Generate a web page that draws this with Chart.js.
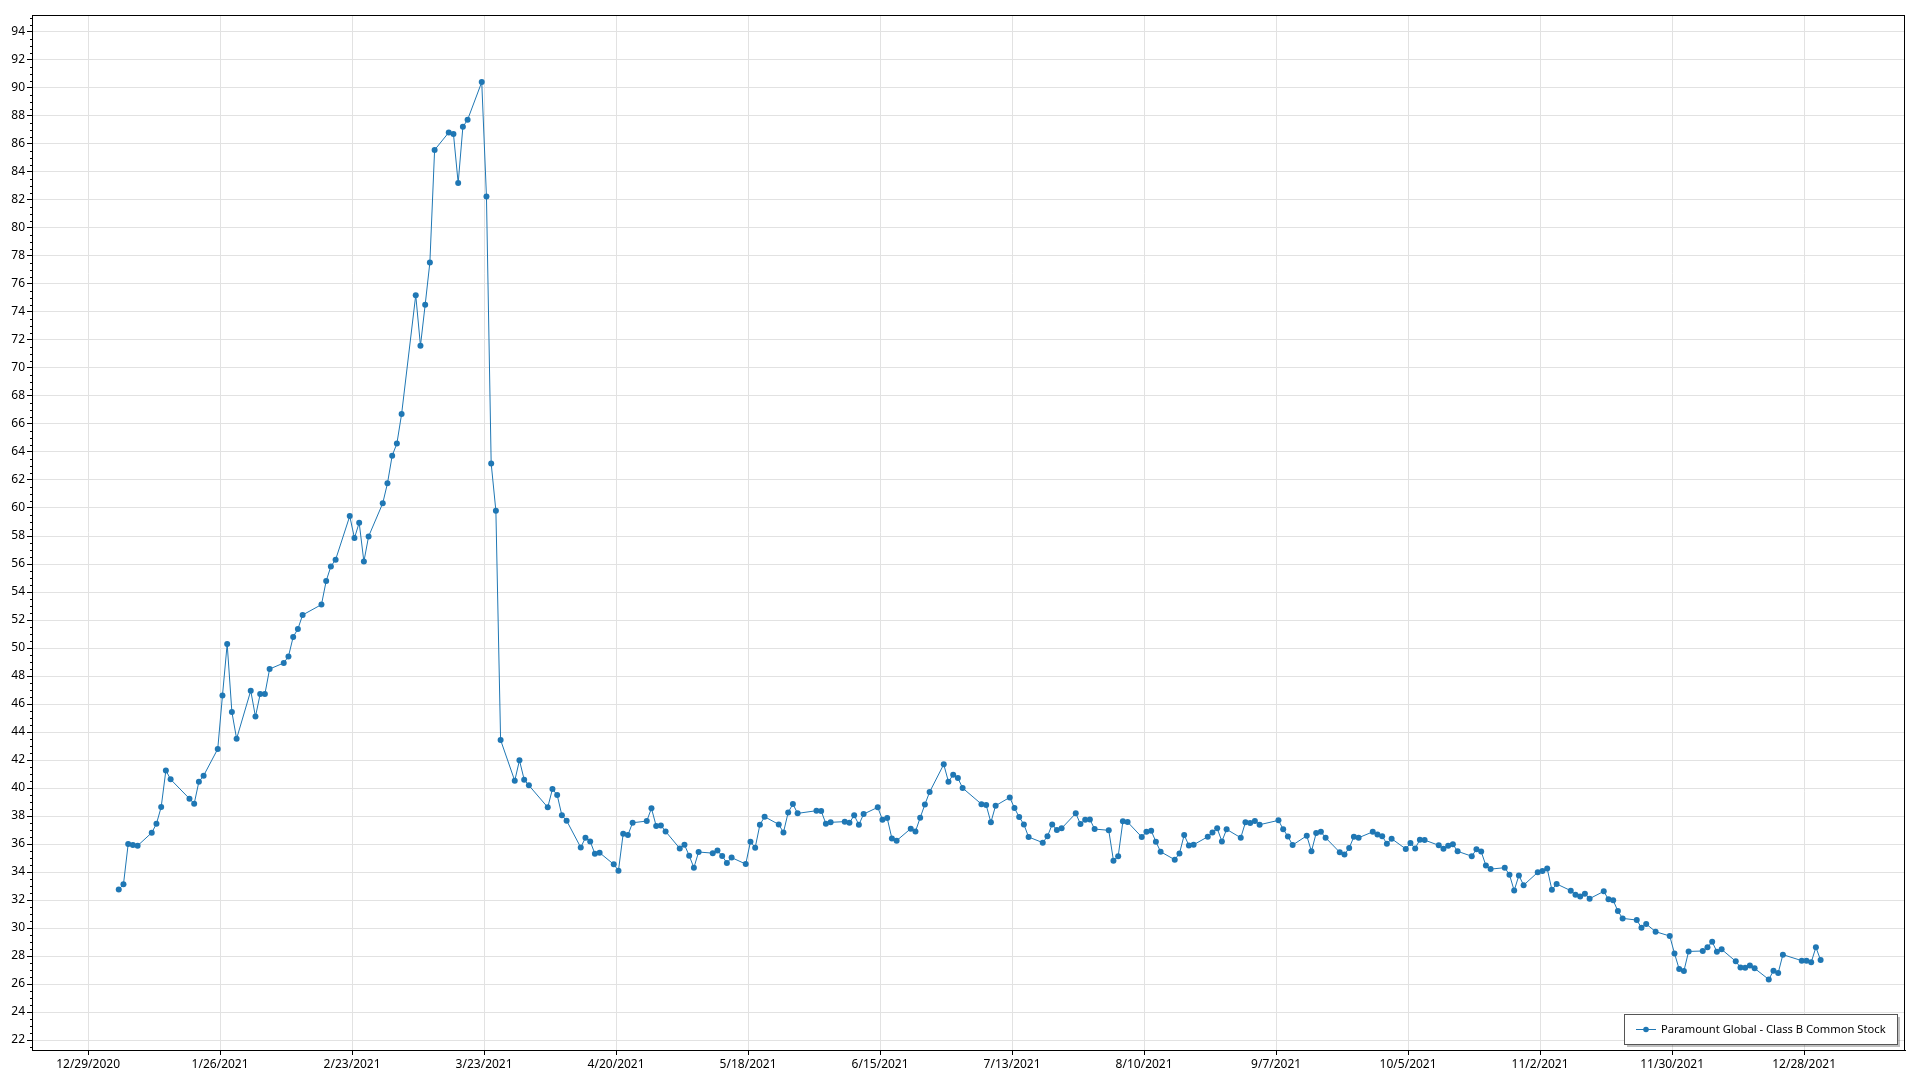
<!DOCTYPE html>
<html>
<head>
<meta charset="utf-8">
<script src="https://cdn.jsdelivr.net/npm/chart.js@4.4.1/dist/chart.umd.min.js"></script>
<style>
  html, body { margin: 0; padding: 0; background: #fff; }
  #wrap { width: 1920px; height: 1080px; position: relative; }
</style>
</head>
<body>
<div id="wrap"><canvas id="myChart" width="1920" height="1080"></canvas></div>
<script>
// daily closes
var dates = [
  '2021-01-04','2021-01-05','2021-01-06','2021-01-07','2021-01-08','2021-01-11','2021-01-12','2021-01-13','2021-01-14','2021-01-15',
  '2021-01-19','2021-01-20','2021-01-21','2021-01-22','2021-01-25','2021-01-26','2021-01-27','2021-01-28','2021-01-29',
  '2021-02-01','2021-02-02','2021-02-03','2021-02-04','2021-02-05','2021-02-08','2021-02-09','2021-02-10','2021-02-11','2021-02-12',
  '2021-02-16','2021-02-17','2021-02-18','2021-02-19','2021-02-22','2021-02-23','2021-02-24','2021-02-25','2021-02-26',
  '2021-03-01','2021-03-02','2021-03-03','2021-03-04','2021-03-05','2021-03-08','2021-03-09','2021-03-10','2021-03-11','2021-03-12',
  '2021-03-15','2021-03-16','2021-03-17','2021-03-18','2021-03-19','2021-03-22','2021-03-23','2021-03-24','2021-03-25','2021-03-26',
  '2021-03-29','2021-03-30','2021-03-31',
  '2021-04-01','2021-04-05','2021-04-06','2021-04-07','2021-04-08','2021-04-09','2021-04-12','2021-04-13','2021-04-14','2021-04-15',
  '2021-04-16','2021-04-19','2021-04-20','2021-04-21','2021-04-22','2021-04-23','2021-04-26','2021-04-27','2021-04-28','2021-04-29','2021-04-30',
  '2021-05-03','2021-05-04','2021-05-05','2021-05-06','2021-05-07','2021-05-10','2021-05-11','2021-05-12','2021-05-13','2021-05-14',
  '2021-05-17','2021-05-18','2021-05-19','2021-05-20','2021-05-21','2021-05-24','2021-05-25','2021-05-26','2021-05-27','2021-05-28',
  '2021-06-01','2021-06-02','2021-06-03','2021-06-04','2021-06-07','2021-06-08','2021-06-09','2021-06-10','2021-06-11',
  '2021-06-14','2021-06-15','2021-06-16','2021-06-17','2021-06-18','2021-06-21','2021-06-22','2021-06-23','2021-06-24','2021-06-25',
  '2021-06-28','2021-06-29','2021-06-30',
  '2021-07-01','2021-07-02','2021-07-06','2021-07-07','2021-07-08','2021-07-09','2021-07-12','2021-07-13','2021-07-14','2021-07-15',
  '2021-07-16','2021-07-19','2021-07-20','2021-07-21','2021-07-22','2021-07-23','2021-07-26','2021-07-27','2021-07-28','2021-07-29','2021-07-30',
  '2021-08-02','2021-08-03','2021-08-04','2021-08-05','2021-08-06','2021-08-09','2021-08-10','2021-08-11','2021-08-12','2021-08-13',
  '2021-08-16','2021-08-17','2021-08-18','2021-08-19','2021-08-20','2021-08-23','2021-08-24','2021-08-25','2021-08-26','2021-08-27',
  '2021-08-30','2021-08-31',
  '2021-09-01','2021-09-02','2021-09-03','2021-09-07','2021-09-08','2021-09-09','2021-09-10','2021-09-13','2021-09-14','2021-09-15',
  '2021-09-16','2021-09-17','2021-09-20','2021-09-21','2021-09-22','2021-09-23','2021-09-24','2021-09-27','2021-09-28','2021-09-29','2021-09-30',
  '2021-10-01','2021-10-04','2021-10-05','2021-10-06','2021-10-07','2021-10-08','2021-10-11','2021-10-12','2021-10-13','2021-10-14',
  '2021-10-15','2021-10-18','2021-10-19','2021-10-20','2021-10-21','2021-10-22','2021-10-25','2021-10-26','2021-10-27','2021-10-28','2021-10-29',
  '2021-11-01','2021-11-02','2021-11-03','2021-11-04','2021-11-05','2021-11-08','2021-11-09','2021-11-10','2021-11-11','2021-11-12',
  '2021-11-15','2021-11-16','2021-11-17','2021-11-18','2021-11-19','2021-11-22','2021-11-23','2021-11-24','2021-11-26','2021-11-29','2021-11-30',
  '2021-12-01','2021-12-02','2021-12-03','2021-12-06','2021-12-07','2021-12-08','2021-12-09','2021-12-10','2021-12-13','2021-12-14',
  '2021-12-15','2021-12-16','2021-12-17','2021-12-20','2021-12-21','2021-12-22','2021-12-23','2021-12-27','2021-12-28','2021-12-29',
  '2021-12-30','2021-12-31'
];
var closes = [
  32.76,33.12,36.00,35.93,35.88,36.81,37.45,38.64,41.26,40.62,
  39.24,38.88,40.45,40.88,42.79,46.60,50.29,45.43,43.52,
  46.95,45.10,46.71,46.71,48.50,48.93,49.40,50.79,51.36,52.36,
  53.10,54.79,55.83,56.31,59.42,57.85,58.95,56.17,57.97,
  60.34,61.76,63.74,64.60,66.71,75.20,71.59,74.52,77.54,85.57,
  86.82,86.71,83.21,87.22,87.73,90.42,82.24,63.18,59.80,43.43,
  40.52,41.98,40.60,
  40.19,38.62,39.93,39.50,38.05,37.67,35.76,36.45,36.19,35.31,
  35.38,34.55,34.10,36.74,36.64,37.52,37.64,38.55,37.29,37.33,36.90,
  35.69,35.95,35.17,34.31,35.43,35.35,35.53,35.15,34.65,35.03,
  34.57,36.17,35.74,37.38,37.95,37.40,36.83,38.26,38.86,38.19,
  38.38,38.36,37.45,37.55,37.60,37.52,38.05,37.38,38.14,
  38.62,37.74,37.86,36.40,36.24,37.10,36.90,37.88,38.83,39.71,
  41.69,40.45,40.95,
  40.71,40.00,38.85,38.78,37.55,38.74,39.33,38.57,37.93,37.40,
  36.50,36.10,36.55,37.40,37.00,37.12,38.19,37.43,37.74,37.76,37.07,
  36.98,34.81,35.12,37.62,37.57,36.50,36.88,36.95,36.17,35.45,
  34.88,35.33,36.64,35.90,35.95,36.52,36.83,37.12,36.19,37.05,
  36.45,37.55,
  37.50,37.64,37.38,37.69,37.06,36.54,35.93,36.59,35.48,36.78,
  36.87,36.45,35.41,35.25,35.72,36.52,36.45,36.87,36.68,36.56,36.02,
  36.38,35.65,36.07,35.69,36.31,36.28,35.91,35.67,35.88,35.98,
  35.48,35.13,35.62,35.46,34.47,34.21,34.31,33.81,32.68,33.76,33.06,
  33.98,34.08,34.25,32.73,33.15,32.67,32.38,32.26,32.45,32.10,
  32.62,32.05,31.98,31.21,30.69,30.57,30.02,30.29,29.74,29.43,28.19,
  27.07,26.93,28.33,28.36,28.62,29.02,28.31,28.48,27.62,27.19,
  27.17,27.33,27.12,26.33,26.95,26.79,28.10,27.67,27.67,27.55,
  28.62,27.71
];
var xTickLabels = ['12/29/2020','1/26/2021','2/23/2021','3/23/2021','4/20/2021','5/18/2021','6/15/2021',
  '7/13/2021','8/10/2021','9/7/2021','10/5/2021','11/2/2021','11/30/2021','12/28/2021'];
var yTickLabels = [22,24,26,28,30,32,34,36,38,40,42,44,46,48,50,52,54,56,58,60,62,64,66,68,70,72,74,76,78,80,82,84,86,88,90,92,94];
var seriesName = 'Paramount Global - Class B Common Stock';

var base = Date.UTC(2020, 11, 29);
function dayOf(y, m, d) { return (Date.UTC(y, m - 1, d) - base) / 86400000; }
// quotes are stamped mid-day, not at midnight
function isoDay(s) { var p = s.split('-'); return dayOf(+p[0], +p[1], +p[2]) + 0.5; }
function usDay(s) { var p = s.split('/'); return dayOf(+p[2], +p[0], +p[1]); }
function fmt(day) {
  var d = new Date(base + day * 86400000);
  return (d.getUTCMonth() + 1) + '/' + d.getUTCDate() + '/' + d.getUTCFullYear();
}

var points = dates.map(function(s, i) { return { x: isoDay(s), y: closes[i] }; });
var xTickDays = xTickLabels.map(usDay);
var blue = 'rgb(31,119,180)';
var font = { family: "'Segoe UI', 'Noto Sans', sans-serif", size: 12 };

var frame = {
  id: 'frame',
  afterDraw: function(chart) {
    var ctx = chart.ctx, a = chart.chartArea, y = chart.scales.y;
    ctx.save();
    ctx.strokeStyle = '#000';
    ctx.lineWidth = 1;
    ctx.strokeRect(Math.round(a.left) + 0.5, Math.round(a.top) + 0.5,
      Math.round(a.right - a.left) - 1, Math.round(a.bottom - a.top));
    // minor ticks on the value axis
    ctx.beginPath();
    for (var v = 21.5; v <= 95; v += 0.5) {
      if (v % 2 === 0) continue;
      var py = Math.round(y.getPixelForValue(v)) + 0.5;
      ctx.moveTo(a.left - 2, py);
      ctx.lineTo(a.left, py);
    }
    ctx.stroke();
    // legend, bottom right inside the plot
    var w = 273, h = 30;
    var bx = Math.round(a.right) - 8 - w, by = Math.round(a.bottom) - 6 - h;
    ctx.fillStyle = 'rgba(0,0,0,0.25)';
    ctx.fillRect(bx + 3, by + 3, w, h);
    ctx.fillStyle = '#fff';
    ctx.fillRect(bx, by, w, h);
    ctx.strokeStyle = '#555';
    ctx.strokeRect(bx + 0.5, by + 0.5, w, h);
    ctx.strokeStyle = blue;
    ctx.beginPath();
    ctx.moveTo(bx + 12, by + h / 2 + 0.5);
    ctx.lineTo(bx + 32, by + h / 2 + 0.5);
    ctx.stroke();
    ctx.fillStyle = blue;
    ctx.beginPath();
    ctx.arc(bx + 22, by + h / 2 + 0.5, 2.8, 0, Math.PI * 2);
    ctx.fill();
    ctx.fillStyle = '#000';
    ctx.font = "11.2px 'Segoe UI', 'Noto Sans', sans-serif";
    ctx.textBaseline = 'middle';
    ctx.fillText(seriesName, bx + 37, by + h / 2 + 1);
    ctx.restore();
  }
};

var myChart = new Chart(document.getElementById('myChart'), {
  type: 'line',
  data: {
    datasets: [{
      label: seriesName,
      data: points,
      borderColor: blue,
      backgroundColor: blue,
      borderWidth: 1,
      pointRadius: 3,
      pointBorderWidth: 0,
      pointBackgroundColor: blue,
      tension: 0
    }]
  },
  options: {
    responsive: false,
    animation: false,
    layout: { padding: { left: 0, top: 15, right: 15, bottom: 0 } },
    plugins: { legend: { display: false }, tooltip: { enabled: false } },
    scales: {
      x: {
        type: 'linear',
        min: -11.9,
        max: 385.4,
        afterBuildTicks: function(scale) {
          scale.ticks = xTickDays.map(function(v) { return { value: v }; });
        },
        afterFit: function(scale) { scale.height = 30; },
        ticks: {
          color: '#000',
          font: font,
          padding: 2,
          maxRotation: 0,
          autoSkip: false,
          callback: function(v) { return fmt(v); }
        },
        grid: { color: '#e2e2e2', tickColor: '#000', tickLength: 5, lineWidth: 1 },
        border: { color: '#000' }
      },
      y: {
        type: 'linear',
        min: 21.29,
        max: 95.21,
        afterBuildTicks: function(scale) {
          scale.ticks = yTickLabels.map(function(v) { return { value: v }; });
        },
        afterFit: function(scale) { scale.width = 32; },
        ticks: { color: '#000', font: font, padding: 2, autoSkip: false },
        grid: { color: '#e2e2e2', tickColor: '#000', tickLength: 5, lineWidth: 1 },
        border: { color: '#000' }
      }
    }
  },
  plugins: [frame]
});
</script>
</body>
</html>
